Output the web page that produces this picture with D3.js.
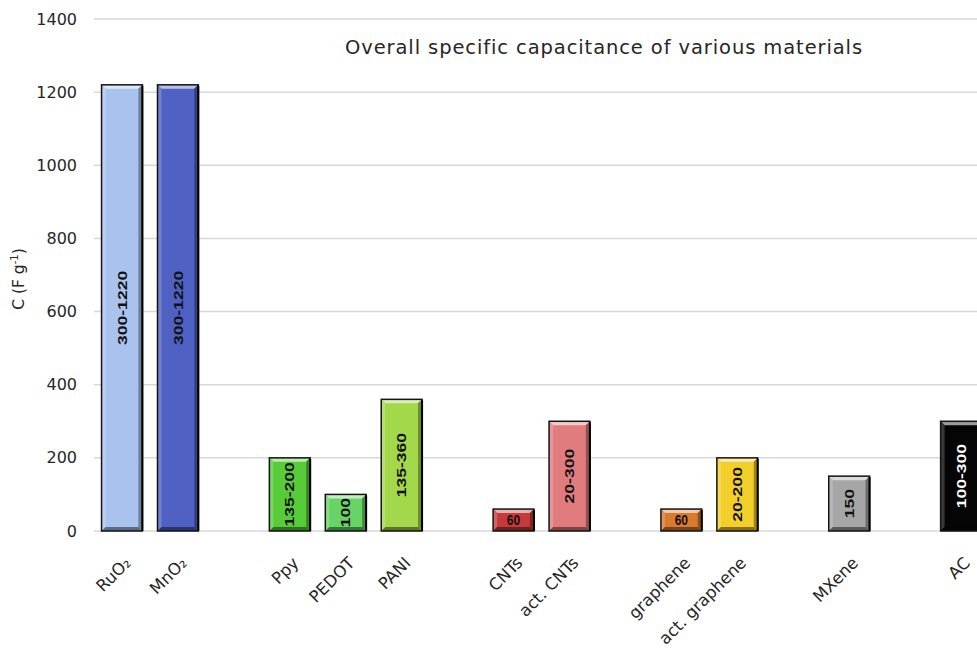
<!DOCTYPE html>
<html>
<head>
<meta charset="utf-8">
<script src="https://cdn.jsdelivr.net/npm/d3@7"></script>
<style>
  html, body { margin: 0; padding: 0; background: #fff; overflow: hidden; }
  svg { display: block; }
</style>
</head>
<body>
<svg id="chart" width="977" height="654"></svg>
<script>
// Materials, grouped by family (a blank slot separates neighbouring families)
const categories = ["RuO₂", "MnO₂", "Ppy", "PEDOT", "PANI", "CNTs", "act. CNTs",
                    "graphene", "act. graphene", "MXene", "AC"];
const groupSizes = [2, 3, 2, 2, 1, 1];
// Upper end of the capacitance range, F/g
const values = [1220, 1220, 200, 100, 360, 60, 300, 60, 200, 150, 300];
const valueLabels = ["300-1220", "300-1220", "135-200", "100", "135-360", "60",
                     "20-300", "60", "20-200", "150", "100-300"];
const barColors = ["#a9c3ee", "#4f61c2", "#58cc38", "#68d465", "#a3d84a", "#c8393b",
                   "#e07b7e", "#d97a2e", "#f2cf2a", "#a6a6a6", "#050505"];
const yTicks = [0, 200, 400, 600, 800, 1000, 1200, 1400];
const title = "Overall specific capacitance of various materials";

const svg = d3.select("#chart");
const W = 977, H = 654;
const plotLeft = 94, plotRight = 989, plotTop = 19, plotBottom = 531;

// Build slot domain with spacer keys between groups
const slots = [];
let k = 0;
groupSizes.forEach((n, g) => {
  for (let i = 0; i < n; i++) slots.push(categories[k++]);
  if (g < groupSizes.length - 1) slots.push("__gap" + g);
});

const x = d3.scaleBand().domain(slots).range([plotLeft, plotRight])
  .paddingInner(0.27).paddingOuter(0.135);
const y = d3.scaleLinear().domain([0, 1400]).range([plotBottom, plotTop]);

const font = "'DejaVu Sans', sans-serif";
const labelFont = "'Liberation Sans', Arial, sans-serif";

// Gridlines
svg.append("g").selectAll("line").data(yTicks).join("line")
  .attr("x1", plotLeft).attr("x2", W)
  .attr("y1", d => y(d)).attr("y2", d => y(d))
  .attr("stroke", "#d9d9d9").attr("stroke-width", 1.5);

// Y axis tick labels
const yAxis = d3.axisLeft(y).tickValues(yTicks).tickFormat(d3.format("d")).tickSize(0).tickPadding(0);
const yg = svg.append("g").attr("transform", `translate(77,0)`).call(yAxis);
yg.select(".domain").remove();
yg.selectAll("text").attr("font-family", font).attr("font-size", 16).attr("fill", "#262626");

// Y axis title
const yt = svg.append("text")
  .attr("transform", `translate(24,${(plotTop + plotBottom) / 2 + 4}) rotate(-90)`)
  .attr("text-anchor", "middle").attr("font-family", font).attr("font-size", 15.5)
  .attr("fill", "#262626");
yt.append("tspan").text("C (F g");
yt.append("tspan").attr("dy", -6).attr("font-size", 10).text("-1");
yt.append("tspan").attr("dy", 6).text(")");

// Title
svg.append("text").attr("x", 604).attr("y", 54).attr("text-anchor", "middle")
  .attr("font-family", font).attr("font-size", 19.5).attr("letter-spacing", 0.9)
  .attr("fill", "#262626")
  .text(title);

// Bars with a bevelled look
const bars = categories.map((c, i) => ({ name: c, value: values[i], label: valueLabels[i], color: barColors[i] }));
const bevel = 4;
const bg = svg.append("g");
const mix = (c, t) => d3.interpolateRgb(c, t > 0 ? "#ffffff" : "#000000")(Math.abs(t));
bars.forEach(d => {
  const x0 = x(d.name), w = x.bandwidth(), y0 = y(d.value), h = y(0) - y(d.value);
  const g = bg.append("g");
  const base = d3.color(d.color);
  g.append("rect").attr("x", x0).attr("y", y0).attr("width", w).attr("height", h).attr("fill", d.color);
  const b = bevel;
  const faces = [
    { pts: [[x0, y0], [x0 + w, y0], [x0 + w - b, y0 + b], [x0 + b, y0 + b]], c: mix(d.color, 0.6) },
    { pts: [[x0, y0], [x0 + b, y0 + b], [x0 + b, y0 + h - b], [x0, y0 + h]], c: mix(d.color, 0.2) },
    { pts: [[x0 + w, y0], [x0 + w - b, y0 + b], [x0 + w - b, y0 + h - b], [x0 + w, y0 + h]], c: mix(d.color, -0.35) },
    { pts: [[x0, y0 + h], [x0 + b, y0 + h - b], [x0 + w - b, y0 + h - b], [x0 + w, y0 + h]], c: mix(d.color, -0.45) }
  ];
  faces.forEach(f => g.append("polygon").attr("points", f.pts.map(p => p.join(",")).join(" ")).attr("fill", f.c));
  g.append("rect").attr("x", x0).attr("y", y0).attr("width", w).attr("height", h)
    .attr("fill", "none").attr("stroke", "#141414").attr("stroke-width", 1.5);
  g.append("line").attr("x1", x0 + w).attr("x2", x0 + w).attr("y1", y0 + 1).attr("y2", y0 + h)
    .attr("stroke", "#000").attr("stroke-width", 2);

  // Value label: rotated when it fits along the bar, otherwise horizontal
  const dark = base.r + base.g + base.b < 120;
  const fs = 13, stretch = 1.35;
  const t = g.append("text")
    .attr("text-anchor", "middle")
    .attr("font-family", labelFont).attr("font-weight", "bold")
    .attr("font-size", fs).attr("fill", dark ? "#ffffff" : "#111111")
    .text(d.label);
  const len = t.node().getComputedTextLength() * stretch;
  if (len + 4 < h) {
    t.attr("transform", `translate(${x0 + w / 2 + fs * 0.36},${y0 + h / 2}) rotate(-90) scale(${stretch},1)`);
  } else {
    t.attr("transform", `translate(${x0 + w / 2},${y0 + h / 2 + fs * 0.36}) scale(1,1.15)`)
      .attr("font-size", 12);
  }
});

// Category labels, rotated 45 degrees
const xl = svg.append("g");
categories.forEach(c => {
  const cx = x(c) + x.bandwidth() / 2;
  xl.append("text")
    .attr("transform", `translate(${cx + 10},${plotBottom + 33}) rotate(-45)`)
    .attr("text-anchor", "end").attr("font-family", font).attr("font-size", 16.5)
    .attr("fill", "#262626")
    .text(c);
});
</script>
</body>
</html>
